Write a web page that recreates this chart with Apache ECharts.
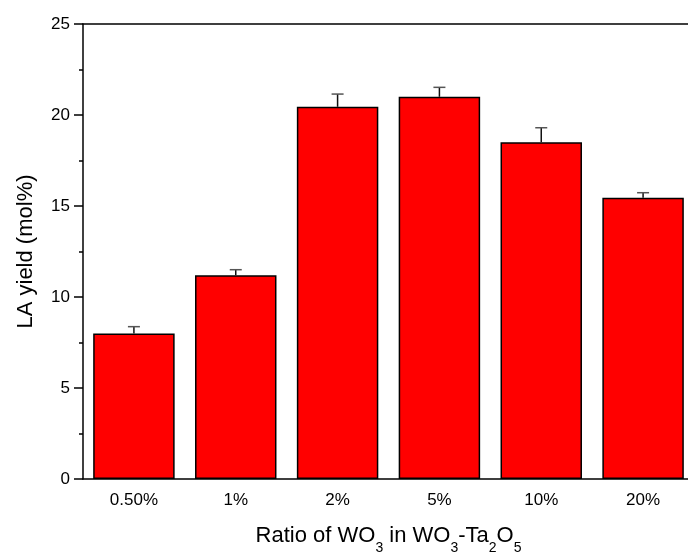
<!DOCTYPE html>
<html>
<head>
<meta charset="utf-8">
<script src="https://cdn.jsdelivr.net/npm/echarts@6/dist/echarts.min.js"></script>
<style>
  html, body { margin: 0; padding: 0; background: #fff; overflow: hidden; }
  #chart { width: 688px; height: 552px; }
</style>
</head>
<body>
<div id="chart"></div>
<script>
const categories = ["0.50%", "1%", "2%", "5%", "10%", "20%"];
const yieldValues = [8.0, 11.2, 20.45, 21.0, 18.5, 15.45];
const yieldErrors = [0.37, 0.3, 0.7, 0.52, 0.8, 0.28];
const yTicks = [0, 5, 10, 15, 20, 25];

const chart = echarts.init(document.getElementById("chart"));
const font = "Liberation Sans, Arial, sans-serif";

const option = {
  animation: false,
  grid: { left: 83, right: -6, top: 24, bottom: 73, outerBoundsMode: "none", containLabel: false },
  xAxis: [
    {
      type: "category",
      data: categories,
      name: "{t|Ratio of WO}{s|3}{t| in WO}{s|3}{t|-Ta}{s|2}{t|O}{s|5}",
      nameLocation: "middle",
      nameGap: 42,
      nameTextStyle: {
        rich: {
          t: { fontFamily: font, fontSize: 22, color: "#000", verticalAlign: "bottom", lineHeight: 26 },
          s: { fontFamily: font, fontSize: 14, color: "#000", verticalAlign: "bottom", lineHeight: 18, padding: [0, 0, -8, 0] }
        }
      },
      axisLine: { lineStyle: { color: "#000", width: 1.5 } },
      axisTick: { alignWithLabel: true, length: 9, lineStyle: { color: "#000", width: 1.5 } },
      axisLabel: { fontFamily: font, fontSize: 17, color: "#000", margin: 13 },
      splitLine: { show: false }
    },
    {
      // boundary minor ticks
      type: "category",
      data: categories,
      position: "bottom",
      axisLine: { show: false },
      axisTick: { length: 5, lineStyle: { color: "#000", width: 1.5 } },
      axisLabel: { show: false },
      splitLine: { show: false }
    },
    {
      // top frame line
      type: "category",
      data: categories,
      position: "top",
      axisLine: { lineStyle: { color: "#000", width: 1.5 } },
      axisTick: { show: false },
      axisLabel: { show: false },
      splitLine: { show: false }
    }
  ],
  yAxis: {
    type: "value",
    min: yTicks[0],
    max: yTicks[yTicks.length - 1],
    interval: 5,
    name: "LA yield (mol%)",
    nameLocation: "middle",
    nameGap: 46,
    nameTextStyle: { fontFamily: font, fontSize: 22, color: "#000" },
    axisLine: { show: true, lineStyle: { color: "#000", width: 1.5 } },
    axisTick: { show: true, length: 9, lineStyle: { color: "#000", width: 1.5 } },
    minorTick: { show: true, splitNumber: 2, length: 4, lineStyle: { color: "#000", width: 1.5 } },
    axisLabel: { fontFamily: font, fontSize: 17, color: "#000", margin: 13 },
    splitLine: { show: false }
  },
  series: [
    {
      type: "bar",
      data: yieldValues,
      barCategoryGap: "20%",
      itemStyle: { color: "#ff0000", borderColor: "#000", borderWidth: 1.5 },
      z: 2
    },
    {
      type: "custom",
      data: yieldValues.map((v, i) => [i, v, v + yieldErrors[i]]),
      z: 3,
      renderItem: function (params, api) {
        const base = api.coord([api.value(0), api.value(1)]);
        const top = api.coord([api.value(0), api.value(2)]);
        const half = 6;
        return {
          type: "group",
          children: [
            {
              type: "line",
              shape: { x1: base[0], y1: base[1], x2: top[0], y2: top[1] },
              style: { stroke: "#111", lineWidth: 1.5 }
            },
            {
              type: "line",
              shape: { x1: top[0] - half, y1: top[1], x2: top[0] + half, y2: top[1] },
              style: { stroke: "#555", lineWidth: 1.5 }
            }
          ]
        };
      }
    }
  ]
};

chart.setOption(option);
</script>
</body>
</html>
